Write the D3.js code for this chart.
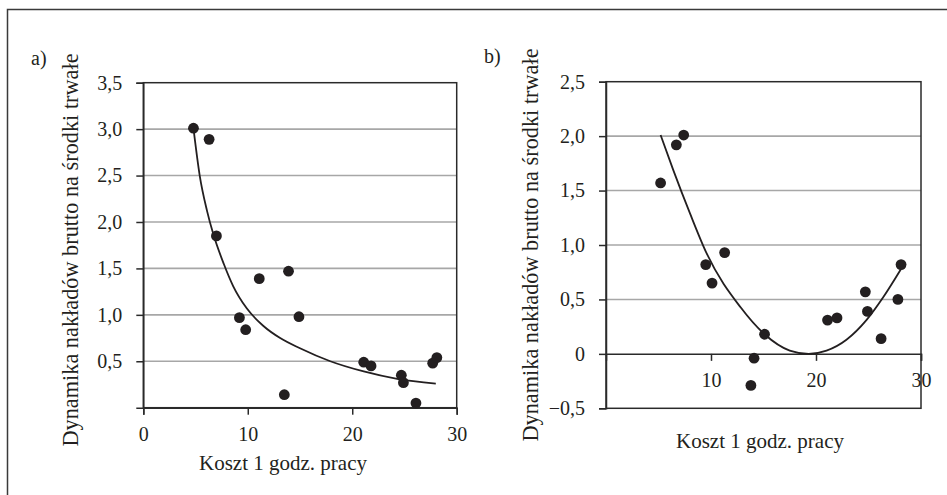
<!DOCTYPE html>
<html><head><meta charset="utf-8">
<script src="https://cdn.jsdelivr.net/npm/d3@7/dist/d3.min.js"></script>
<style>
html,body{margin:0;padding:0;background:#fff;}
svg{display:block;}
svg text{font-family:"Liberation Serif","DejaVu Serif","Tinos",serif !important;fill:#231f20;}
</style></head>
<body>
<svg id="chart" width="947" height="495"></svg>
<script>
// ---- data ----
const xTitle = "Koszt 1 godz. pracy";
const yTitle = "Dynamika nakładów brutto na środki trwałe";
// panel a
const aX = [4.8, 6.3, 7.0, 9.2, 9.8, 11.1, 13.5, 13.9, 14.9, 21.1, 21.8, 24.7, 24.9, 26.1, 27.7, 28.1];
const aY = [3.01, 2.89, 1.85, 0.97, 0.84, 1.39, 0.14, 1.47, 0.98, 0.49, 0.45, 0.35, 0.27, 0.05, 0.48, 0.54];
const aTrendX = [4.8, 5.4, 6.1, 6.7, 7.7, 8.6, 9.9, 11.5, 13.1, 15.0, 17.9, 21.1, 24.3, 28.0];
const aTrendY = [3.01, 2.50, 2.12, 1.87, 1.55, 1.31, 1.07, 0.88, 0.75, 0.64, 0.50, 0.39, 0.31, 0.26];
const aYTicks = [0.5, 1.0, 1.5, 2.0, 2.5, 3.0, 3.5];
const aXTicks = [0, 10, 20, 30];
// panel b
const bX = [5.2, 6.7, 7.4, 9.5, 10.1, 11.3, 13.8, 14.1, 15.1, 21.1, 22.0, 24.7, 24.9, 26.2, 27.8, 28.1];
const bY = [1.57, 1.92, 2.01, 0.82, 0.65, 0.93, -0.29, -0.04, 0.18, 0.31, 0.33, 0.57, 0.39, 0.14, 0.50, 0.82];
const bTrendX = [5.2, 6.4, 8.0, 9.6, 12.8, 15.1, 17.5, 19.3, 21.0, 22.9, 24.8, 26.4, 28.1];
const bTrendY = [2.01, 1.69, 1.29, 0.92, 0.43, 0.18, 0.03, 0.0, 0.03, 0.13, 0.31, 0.52, 0.78];
const bYTicks = [-0.5, 0, 0.5, 1.0, 1.5, 2.0, 2.5];
const bXTicks = [10, 20, 30];

const fmt = v => v === 0 ? "0" : (v < 0 ? "\u2212" : "") + Math.abs(v).toFixed(1).replace(".", ",");

const svg = d3.select("#chart");
const INK = "#231f20", GRID = "#a7a7a7";
const SERIF = '"Liberation Serif","DejaVu Serif","Tinos",serif';

// outer frame (top & left visible)
svg.append("path").attr("d", "M7.5,495 V9.5 H947").attr("fill", "none").attr("stroke", "#3a3a3a").attr("stroke-width", 1.5);

function panel(o) {
  const x = d3.scaleLinear().domain([0, 30]).range([o.x0, o.x1]);
  const y = d3.scaleLinear().domain(o.yDom).range([o.y0, o.y1]);
  const g = svg.append("g").attr("font-family", SERIF);
  // gridlines
  g.selectAll(".grid").data(o.grid).join("line")
    .attr("x1", o.x0).attr("x2", o.x1).attr("y1", d => y(d)).attr("y2", d => y(d))
    .attr("stroke", GRID).attr("stroke-width", 1.6);
  // box
  g.append("rect").attr("x", o.x0).attr("y", o.y1).attr("width", o.x1 - o.x0).attr("height", o.y0 - o.y1)
    .attr("fill", "none").attr("stroke", "#2a2a2a").attr("stroke-width", 1.5);
  // y axis
  const ya = g.append("g").attr("transform", `translate(${o.x0},0)`)
    .call(d3.axisLeft(y).tickValues(o.yTicks).tickFormat(fmt).tickSize(7).tickPadding(14));
  ya.attr("font-family", SERIF).attr("font-size", 20);
  ya.select(".domain").attr("stroke", "#2a2a2a").attr("stroke-width", 1.5);
  ya.selectAll(".tick line").attr("stroke", "#2a2a2a").attr("stroke-width", 1.5);
  ya.selectAll("text").attr("fill", INK);
  // x axis
  const xa = g.append("g").attr("transform", `translate(0,${y(o.xAxisAt)})`)
    .call(d3.axisBottom(x).tickValues(o.xTicks).tickFormat(d3.format("d")).tickSize(7));
  xa.attr("font-family", SERIF).attr("font-size", 20);
  xa.select(".domain").attr("stroke", "#2a2a2a").attr("stroke-width", 1.5);
  xa.selectAll(".tick line").attr("stroke", "#2a2a2a").attr("stroke-width", 1.5);
  xa.selectAll("text").attr("y", 33).attr("dy", 0).attr("fill", INK);
  // trend line
  const tr = o.tx.map((v, i) => [v, o.ty[i]]);
  g.append("path").datum(tr)
    .attr("d", d3.line().x(d => x(d[0])).y(d => y(d[1])).curve(d3.curveMonotoneX))
    .attr("fill", "none").attr("stroke", INK).attr("stroke-width", 1.8);
  // points
  g.selectAll(".pt").data(o.px.map((v, i) => [v, o.py[i]])).join("circle")
    .attr("cx", d => x(d[0])).attr("cy", d => y(d[1])).attr("r", 5.4).attr("fill", INK);
  // titles
  g.append("text").attr("x", o.xtX).attr("y", o.xtY).attr("text-anchor", "middle")
    .attr("font-size", 21).text(xTitle);
  g.append("text").attr("transform", `translate(${o.ytX},${o.ytY}) rotate(-90)`).attr("text-anchor", "middle")
    .attr("font-size", 22.3).text(yTitle);
  g.append("text").attr("x", o.lx).attr("y", o.ly).attr("font-size", 20).text(o.label);
}

panel({x0: 143.3, x1: 456.7, y0: 407.7, y1: 82.7, yDom: [0, 3.5], grid: [0.5, 1.0, 1.5, 2.0, 2.5, 3.0],
  yTicks: aYTicks, xTicks: aXTicks, xAxisAt: 0, px: aX, py: aY, tx: aTrendX, ty: aTrendY,
  xtX: 283, xtY: 470, ytX: 78, ytY: 250, lx: 31, ly: 65, label: "a)"});
panel({x0: 606, x1: 921, y0: 408.3, y1: 81.7, yDom: [-0.5, 2.5], grid: [0.5, 1.0, 1.5, 2.0],
  yTicks: bYTicks, xTicks: bXTicks, xAxisAt: 0, px: bX, py: bY, tx: bTrendX, ty: bTrendY,
  xtX: 760, xtY: 448, ytX: 538, ytY: 245, lx: 484, ly: 63, label: "b)"});
</script>
</body></html>
